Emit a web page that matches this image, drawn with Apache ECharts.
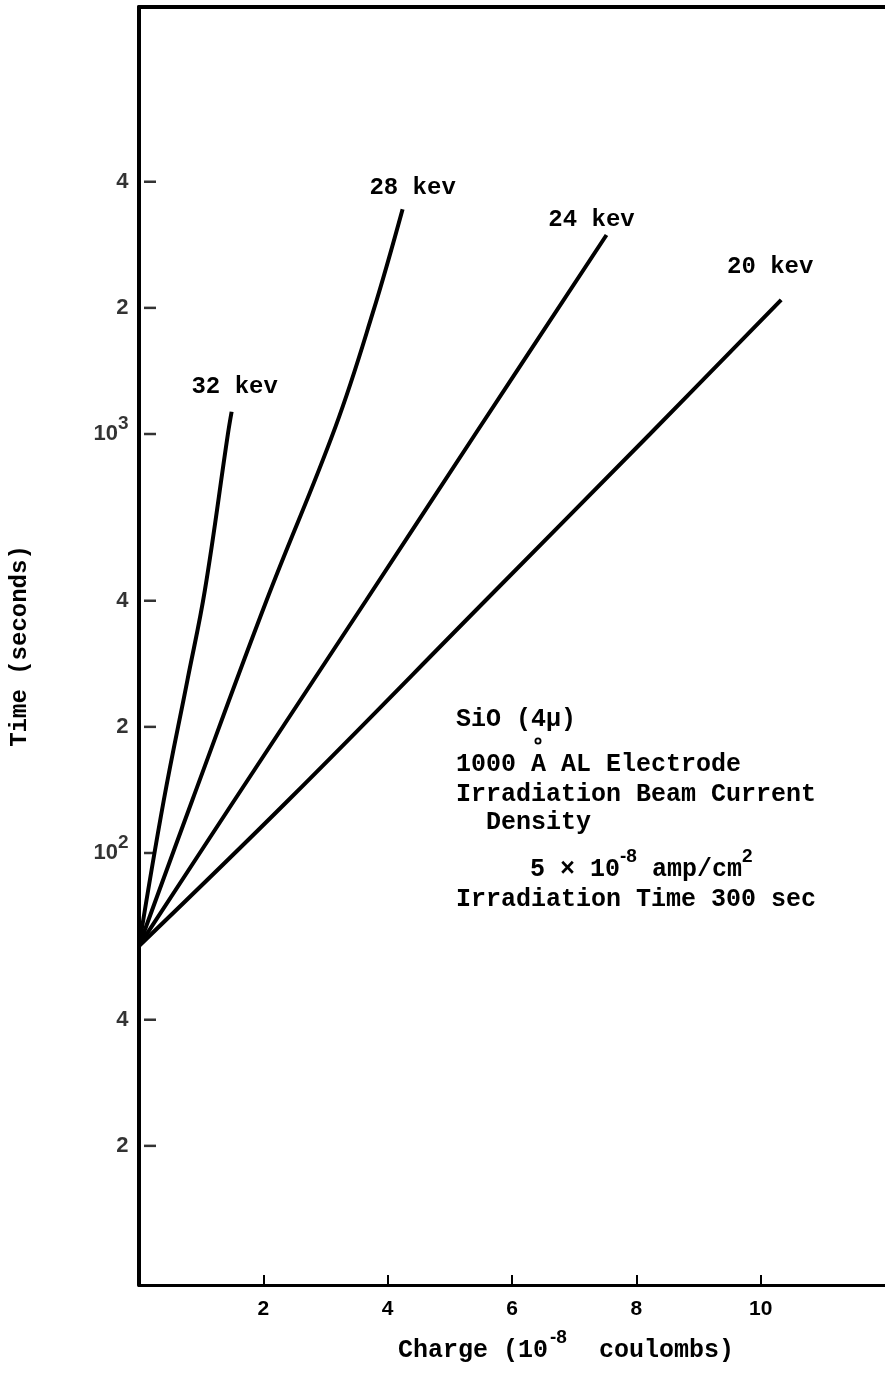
<!DOCTYPE html>
<html>
<head>
<meta charset="utf-8">
<script src="https://cdn.jsdelivr.net/npm/echarts@6/dist/echarts.min.js"></script>
<style>
  html, body { margin: 0; padding: 0; background: #fff; }
  #chart { width: 885px; height: 1375px; }
</style>
</head>
<body>
<div id="chart"></div>
<script>
// Decay time vs. collected charge for each beam energy
const seriesNames = ['20 kev', '24 kev', '28 kev', '32 kev'];
const kev20 = [[0, 60], [2.41, 134], [5.57, 400], [8.22, 1000], [10.33, 2090]];
const kev24 = [[0, 60], [1.54, 134], [3.65, 400], [5.41, 1000], [7.52, 2985]];
const kev28 = [[0, 60], [0.86, 134], [2.05, 400], [3.16, 1040], [3.76, 1945], [4.24, 3440]];
const kev32 = [[0, 60], [0.40, 134], [0.78, 259], [1.06, 424], [1.43, 1000], [1.49, 1130]];

// Y tick marks and their labels (log scale)
const yTicks = [20, 40, 100, 200, 400, 1000, 2000, 4000];
const yTickLabels = ['2', '4', '{b|10}{sup|2}', '2', '4', '{b|10}{sup|3}', '2', '4'];

const MONO = '"Liberation Mono", "DejaVu Sans Mono", monospace';
const SANS = '"Liberation Sans", Arial, sans-serif';

const chart = echarts.init(document.getElementById('chart'));

const labelOffsets = {
  '20 kev': [-11, -33],
  '24 kev': [-15, -15],
  '28 kev': [10, -21],
  '32 kev': [3, -25]
};

function curve(name, data) {
  return {
    name: name,
    type: 'line',
    data: data,
    smooth: 0.4,
    showSymbol: false,
    clip: false,
    lineStyle: { color: '#000', width: 4 },
    endLabel: {
      show: true,
      formatter: name,
      align: 'center',
      verticalAlign: 'middle',
      offset: labelOffsets[name],
      distance: 0,
      fontFamily: MONO,
      fontWeight: 'bold',
      fontSize: 24,
      color: '#000'
    },
    z: 3
  };
}

const option = {
  animation: false,
  backgroundColor: '#fff',
  grid: { left: 132, right: -3, top: 7, bottom: 90 },
  xAxis: [
    {
      type: 'value',
      min: 0,
      max: 12,
      interval: 2,
      axisLine: { show: true, lineStyle: { color: '#000', width: 3 } },
      axisTick: { show: true, inside: true, length: 10, lineStyle: { color: '#000', width: 2 } },
      splitLine: { show: false },
      axisLabel: {
        show: true,
        margin: 14,
        fontFamily: SANS,
        fontWeight: 'bold',
        fontSize: 21,
        color: '#000',
        showMinLabel: false,
        showMaxLabel: false
      }
    },
    {
      type: 'value',
      position: 'top',
      min: 0,
      max: 12,
      axisLine: { show: true, lineStyle: { color: '#000', width: 4 } },
      axisTick: { show: false },
      axisLabel: { show: false },
      splitLine: { show: false }
    }
  ],
  yAxis: {
    type: 'log',
    logBase: 10,
    min: 9.31,
    max: 10450,
    axisLine: { show: true, lineStyle: { color: '#000', width: 4 } },
    axisTick: { show: false },
    axisLabel: { show: false },
    splitLine: { show: false },
    name: 'Time (seconds)',
    nameLocation: 'middle',
    nameGap: 107,
    nameRotate: 90,
    nameTextStyle: { fontFamily: MONO, fontWeight: 'bold', fontSize: 24, color: '#000' }
  },
  series: [
    curve(seriesNames[0], kev20),
    curve(seriesNames[1], kev24),
    curve(seriesNames[2], kev28),
    curve(seriesNames[3], kev32),
    {
      // tick marks on the time axis
      type: 'scatter',
      data: yTicks.map(v => [0, v]),
      symbol: 'rect',
      symbolSize: [12, 2.5],
      symbolOffset: [11, 0],
      clip: false,
      itemStyle: { color: '#000' },
      silent: true,
      z: 4
    },
    {
      // tick labels on the time axis
      type: 'scatter',
      data: yTicks.map(v => [0, v]),
      symbolSize: 1,
      itemStyle: { color: 'rgba(0,0,0,0)' },
      clip: false,
      silent: true,
      label: {
        show: true,
        position: 'left',
        distance: 10,
        formatter: p => yTickLabels[p.dataIndex],
        fontFamily: SANS,
        fontWeight: 'bold',
        fontSize: 22,
        color: '#000',
        rich: {
          b: { fontFamily: SANS, fontWeight: 'bold', fontSize: 22, color: '#000' },
          sup: { fontFamily: SANS, fontWeight: 'bold', fontSize: 19, color: '#000', padding: [0, 0, 20, 0] }
        }
      },
      z: 4
    }
  ],
  graphic: [
    {
      // charge axis title
      type: 'text',
      left: 398,
      top: 1328,
      style: {
        text: '{t|Charge (10}{sup|-8}{t|  coulombs)}',
        rich: {
          t: { font: 'bold 25px ' + MONO, fill: '#000', verticalAlign: 'bottom' },
          sup: { font: 'bold 19px ' + SANS, fill: '#000', padding: [0, 2, 16, 2], verticalAlign: 'bottom' }
        }
      }
    },
    {
      // sample and irradiation notes
      type: 'group',
      left: 456,
      top: 707,
      children: [
        { type: 'text', x: 0, y: 0, style: { text: 'SiO (4μ)', font: 'bold 25px ' + MONO, fill: '#000' } },
        { type: 'circle', shape: { cx: 82, cy: 34, r: 2.6 }, style: { fill: 'none', stroke: '#000', lineWidth: 1.8 } },
        { type: 'text', x: 0, y: 45, style: { text: '1000 A AL Electrode', font: 'bold 25px ' + MONO, fill: '#000' } },
        { type: 'text', x: 0, y: 75, style: { text: 'Irradiation Beam Current', font: 'bold 25px ' + MONO, fill: '#000' } },
        { type: 'text', x: 30, y: 103, style: { text: 'Density', font: 'bold 25px ' + MONO, fill: '#000' } },
        {
          type: 'text', x: 74, y: 140,
          style: {
            text: '{t|5 × 10}{sup|-8}{t| amp/cm}{sup|2}',
            rich: {
              t: { font: 'bold 25px ' + MONO, fill: '#000', verticalAlign: 'bottom' },
              sup: { font: 'bold 19px ' + SANS, fill: '#000', padding: [0, 0, 16, 0], verticalAlign: 'bottom' }
            }
          }
        },
        { type: 'text', x: 0, y: 180, style: { text: 'Irradiation Time 300 sec', font: 'bold 25px ' + MONO, fill: '#000' } }
      ]
    }
  ]
};

chart.setOption(option);
</script>
</body>
</html>
